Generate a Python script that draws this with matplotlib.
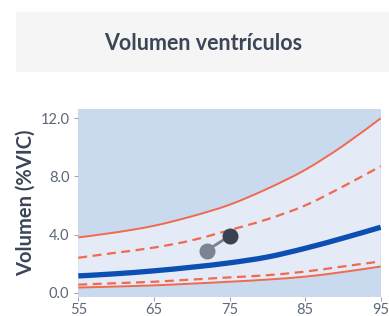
import matplotlib.pyplot as plt
import numpy as np
from matplotlib.patches import Rectangle, PathPatch
from matplotlib.path import Path

# edades (x) y percentiles del volumen ventricular (%VIC)
edad = [55, 60, 65, 70, 75, 80, 85, 90, 95]
p_sup = [3.8, 4.15, 4.6, 5.25, 6.05, 7.15, 8.45, 10.1, 12.0]
p_sup_disc = [2.4, 2.75, 3.1, 3.6, 4.3, 5.05, 6.0, 7.3, 8.7]
mediana = [1.15, 1.3, 1.5, 1.75, 2.05, 2.45, 3.05, 3.75, 4.5]
p_inf_disc = [0.55, 0.65, 0.75, 0.9, 1.05, 1.2, 1.45, 1.8, 2.15]
p_inf = [0.35, 0.42, 0.5, 0.62, 0.75, 0.9, 1.1, 1.42, 1.8]

# paciente
pac_edad = [72.0, 75.0]
pac_vol = [2.9, 3.9]

yticks = [0.0, 4.0, 8.0, 12.0]
xticks = [55, 65, 75, 85, 95]

rojo = "#f06a4e"
azul = "#0b4fb3"


def curva(x, y):
    # trazo suavizado tipo spline (Catmull-Rom -> Bezier)
    x = np.asarray(x, float)
    y = np.asarray(y, float)
    pts = np.column_stack([x, y])
    verts = [pts[0]]
    codes = [Path.MOVETO]
    n = len(pts)
    for i in range(n - 1):
        p0 = pts[max(i - 1, 0)]
        p1 = pts[i]
        p2 = pts[i + 1]
        p3 = pts[min(i + 2, n - 1)]
        c1 = p1 + (p2 - p0) / 6
        c2 = p2 - (p3 - p1) / 6
        verts += [c1, c2, p2]
        codes += [Path.CURVE4] * 3
    return Path(verts, codes)


def linea(ax, x, y, **kw):
    ax.add_patch(PathPatch(curva(x, y), fill=False, **kw))


fig = plt.figure(figsize=(3.89, 3.16), dpi=100)

# caja del titulo
fig.patches.append(Rectangle((16 / 389, 1 - 70.5 / 316), 1, 58.5 / 316,
                             transform=fig.transFigure, color="#f5f5f5", zorder=0))
fig.text(203 / 389, 1 - 43 / 316, "Volumen ventrículos", ha="center", va="center",
         fontsize=15.5, fontweight="bold", color="#3b4656", family="Lato")

ax = fig.add_axes([78.3 / 389, 1 - 296.7 / 316, (380.7 - 78.3) / 389, (296.7 - 109) / 316])
ax.set_facecolor("#c9d9ee")

# banda entre percentiles extremos
sup = curva(edad, p_sup)
inf = curva(edad[::-1], p_inf[::-1])
banda = Path(np.concatenate([sup.vertices, inf.vertices, [sup.vertices[0]]]),
             list(sup.codes) + [Path.LINETO] + list(inf.codes[1:]) + [Path.CLOSEPOLY])
ax.add_patch(PathPatch(banda, facecolor="#e4eaf6", lw=0))

linea(ax, edad, p_sup, edgecolor=rojo, lw=1.4)
linea(ax, edad, p_inf, edgecolor=rojo, lw=1.4)
linea(ax, edad, p_sup_disc, edgecolor=rojo, lw=1.6, linestyle=(0, (4, 2.5)))
linea(ax, edad, p_inf_disc, edgecolor=rojo, lw=1.6, linestyle=(0, (4, 2.5)))
linea(ax, edad, mediana, edgecolor=azul, lw=3.8, capstyle="butt")

ax.plot(pac_edad, pac_vol, color="#7a828e", lw=2, zorder=5)
ax.plot(pac_edad[0], pac_vol[0], "o", ms=10.5, color="#7b8492", zorder=6)
ax.plot(pac_edad[1], pac_vol[1], "o", ms=10.5, color="#3a4250", zorder=6)

ax.set_xlim(55, 95)
ax.set_ylim(-0.28, 12.64)
ax.set_xticks(xticks)
ax.set_yticks(yticks)
ax.set_yticklabels([f"{v:.1f}" for v in yticks])
for s in ax.spines.values():
    s.set_visible(False)
ax.tick_params(colors="#a0a7b2", labelcolor="#5c6778", labelsize=10.5, length=3, width=0.8)
ax.tick_params(axis="x", pad=1.5)
for lab in ax.get_xticklabels() + ax.get_yticklabels():
    lab.set_family("Lato")
ax.set_ylabel("Volumen (%VIC)", fontsize=14.5, fontweight="bold", color="#3b4656",
              family="Lato", labelpad=3)

fig.savefig("out.png", dpi=100)
